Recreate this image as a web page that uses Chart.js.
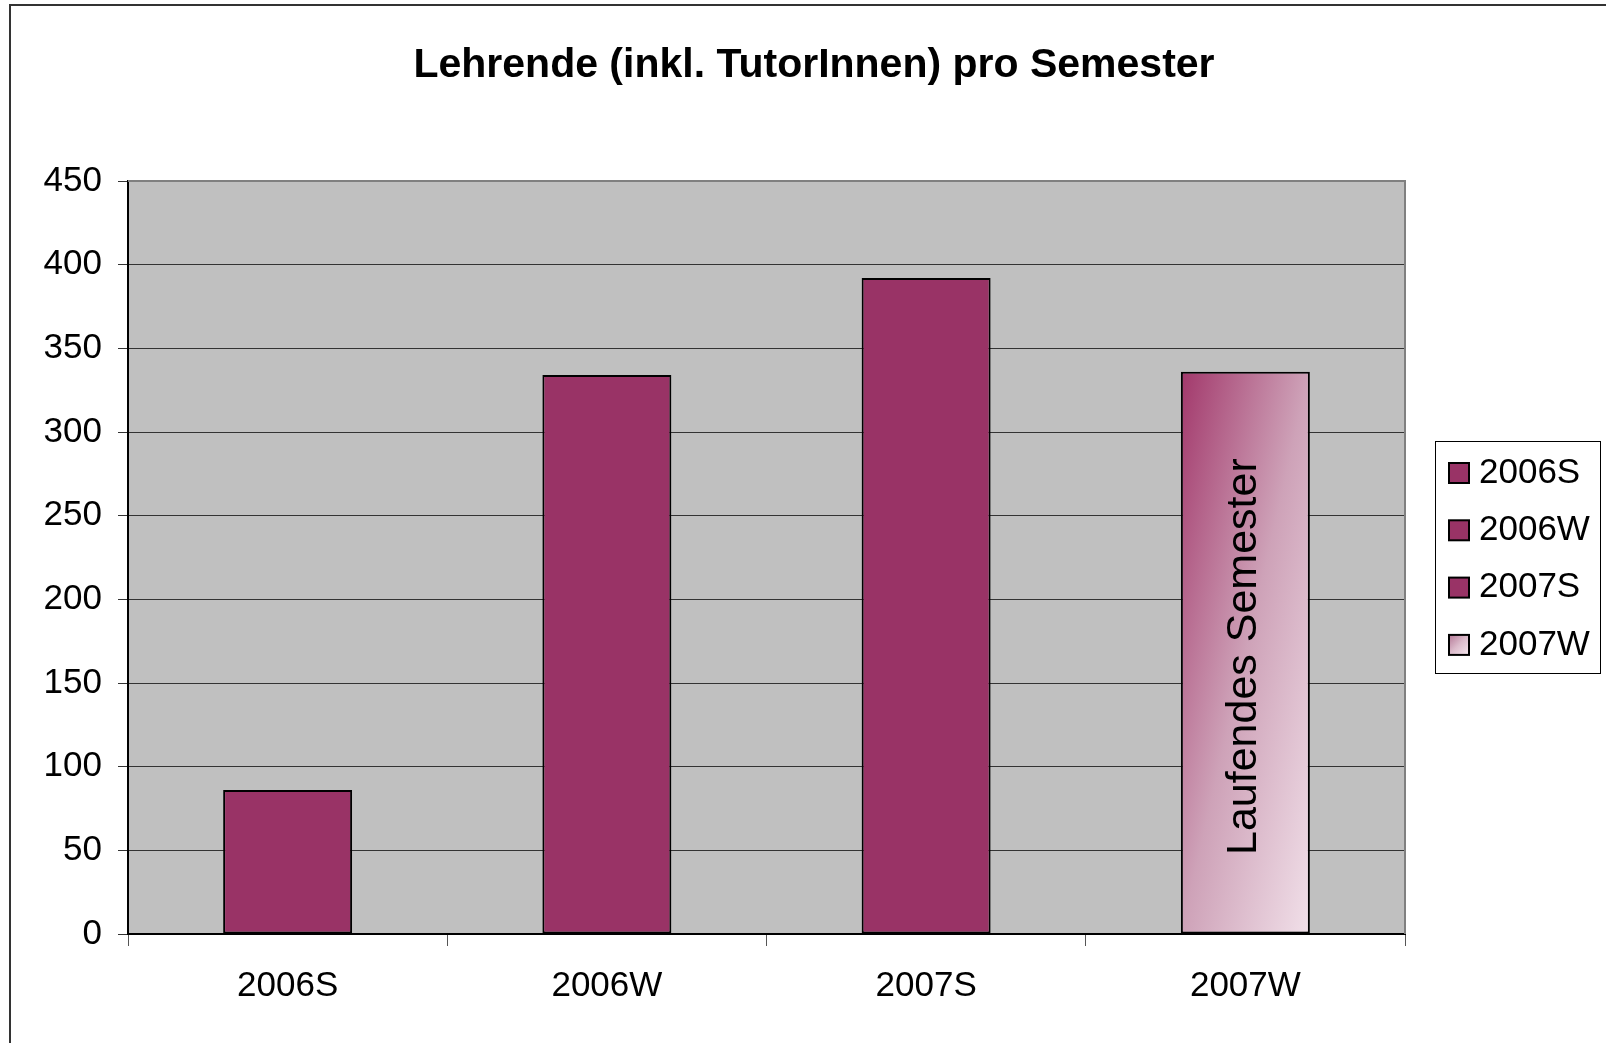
<!DOCTYPE html>
<html>
<head>
<meta charset="utf-8">
<script src="https://cdn.jsdelivr.net/npm/chart.js@4"></script>
<style>
  html, body { margin: 0; padding: 0; background: #fff; }
  canvas { display: block; }
</style>
</head>
<body>
<canvas id="lehrendeChart" width="1606" height="1043"></canvas>
<script>
const semesters = ['2006S', '2006W', '2007S', '2007W'];
const lehrende = [86, 334, 392, 336];
const yTicks = [0, 50, 100, 150, 200, 250, 300, 350, 400, 450];
const chartTitle = 'Lehrende (inkl. TutorInnen) pro Semester';
const barNote = 'Laufendes Semester';

const FONT = '"Liberation Sans", Arial, sans-serif';
const barColor = '#993366';

// diagonal gradient for the running semester bar
function runningGradient(ctx, left, top, right, bottom, stops) {
    const w = right - left, h = bottom - top;
    const t = 2 * w * h / (w * w + h * h);
    const g = ctx.createLinearGradient(left, top, left + t * h, top + t * w);
    stops.forEach(s => g.addColorStop(s[0], s[1]));
    return g;
}
const barStops = [[0, '#a2386b'], [0.5, '#cea2b8'], [1, '#f1e0e9']];
const swatchStops = [[0, '#b47896'], [0.5, '#dcbccc'], [1, '#f6e8ef']];

function barFill(c) {
    if (c.dataIndex !== 3) return barColor;
    const chart = c.chart;
    if (!chart.chartArea) return barColor;
    const x = chart.scales.x, y = chart.scales.y;
    const half = (x.getPixelForTick(1) - x.getPixelForTick(0)) * 0.404 / 2;
    const cx = x.getPixelForTick(3);
    return runningGradient(chart.ctx, cx - half, y.getPixelForValue(lehrende[3]), cx + half, y.getPixelForValue(0), barStops);
}

const frame = {
    id: 'frame',
    beforeDraw(chart) {
        const { ctx, chartArea: a } = chart;
        ctx.save();
        ctx.fillStyle = '#c0c0c0';
        ctx.fillRect(a.left, a.top, a.right - a.left, a.bottom - a.top);
        // outer border of the chart object
        ctx.strokeStyle = '#333';
        ctx.lineWidth = 2;
        ctx.strokeRect(10, 5, 1700, 1200);
        ctx.restore();
    },
    afterDraw(chart) {
        const { ctx, chartArea: a } = chart;
        ctx.save();
        ctx.strokeStyle = '#808080';
        ctx.lineWidth = 2;
        ctx.beginPath();
        ctx.moveTo(a.left, a.top);
        ctx.lineTo(a.right, a.top);
        ctx.lineTo(a.right, a.bottom);
        ctx.stroke();

        // title
        ctx.fillStyle = '#000';
        ctx.font = 'bold 41px ' + FONT;
        ctx.textAlign = 'center';
        ctx.textBaseline = 'middle';
        ctx.fillText(chartTitle, 814, 66);

        // legend
        ctx.strokeStyle = '#000';
        ctx.lineWidth = 1;
        ctx.strokeRect(1435.5, 441.5, 165, 232);
        ctx.font = '35px ' + FONT;
        ctx.textAlign = 'left';
        semesters.forEach((s, i) => {
            const cy = 473 + i * 57.3;
            const sx = 1449, sy = cy - 10;
            ctx.fillStyle = i === 3 ? runningGradient(ctx, sx, sy, sx + 20, sy + 20, swatchStops) : barColor;
            ctx.fillRect(sx, sy, 20, 20);
            ctx.lineWidth = 2;
            ctx.strokeRect(sx, sy, 20, 20);
            ctx.fillStyle = '#000';
            ctx.fillText(s, 1479, cy);
        });
        ctx.restore();
    },
    afterDatasetsDraw(chart) {
        const el = chart.getDatasetMeta(0).data[3];
        if (!el) return;
        const ctx = chart.ctx;
        ctx.save();
        ctx.translate(el.x, (el.y + el.base) / 2 + 4);
        ctx.rotate(-Math.PI / 2);
        ctx.fillStyle = '#000';
        ctx.font = '43px ' + FONT;
        ctx.textAlign = 'center';
        ctx.textBaseline = 'alphabetic';
        ctx.fillText(barNote, 0, 11);
        ctx.restore();
    }
};

new Chart(document.getElementById('lehrendeChart'), {
    type: 'bar',
    data: {
        labels: semesters,
        datasets: [{
            label: 'Lehrende',
            data: lehrende,
            backgroundColor: barFill,
            borderColor: '#000',
            borderWidth: 2,
            borderSkipped: false,
            categoryPercentage: 1,
            barPercentage: 0.404
        }]
    },
    options: {
        responsive: false,
        animation: false,
        events: [],
        layout: { padding: { left: 0, top: 181, right: 201, bottom: 0 } },
        plugins: {
            legend: { display: false },
            title: { display: false },
            tooltip: { enabled: false }
        },
        scales: {
            x: {
                afterFit: s => { s.height = 109; },
                grid: { offset: true, drawOnChartArea: false, color: '#555', tickLength: 12 },
                border: { color: '#000', width: 2 },
                ticks: { color: '#000', font: { family: FONT, size: 35 }, padding: 19 }
            },
            y: {
                min: 0,
                max: 450,
                afterFit: s => { s.width = 128; },
                afterBuildTicks: s => { s.ticks = yTicks.map(v => ({ value: v })); },
                grid: { color: '#333', tickColor: '#333', tickLength: 10 },
                border: { color: '#000', width: 2 },
                ticks: { color: '#000', font: { family: FONT, size: 35 }, padding: 16 }
            }
        }
    },
    plugins: [frame]
});
</script>
</body>
</html>
